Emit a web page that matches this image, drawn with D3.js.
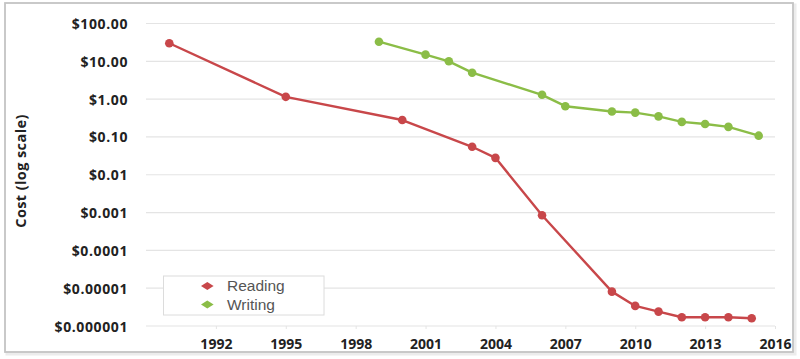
<!DOCTYPE html>
<html>
<head>
<meta charset="utf-8">
<script src="https://cdn.jsdelivr.net/npm/d3@7"></script>
<style>
  html, body { margin: 0; padding: 0; background: #fff; }
  svg { display: block; }
</style>
</head>
<body>
<svg id="chart" width="800" height="359"></svg>
<script>
// ---- data ----
const readingYears  = [1990, 1995, 2000, 2003, 2004, 2006, 2009, 2010, 2011, 2012, 2013, 2014, 2015];
const readingValues = [30, 1.15, 0.28, 0.055, 0.028, 0.00085, 0.0000081, 0.0000034, 0.0000024, 0.0000017, 0.0000017, 0.0000017, 0.0000016];
const writingYears  = [1999, 2001, 2002, 2003, 2006, 2007, 2009, 2010, 2011, 2012, 2013, 2014, 2015.3];
const writingValues = [33, 15, 10, 5, 1.3, 0.65, 0.47, 0.44, 0.35, 0.25, 0.22, 0.185, 0.108];
const yTickValues = [100, 10, 1, 0.1, 0.01, 0.001, 0.0001, 0.00001, 0.000001];
const yTickLabels = ["$100.00", "$10.00", "$1.00", "$0.10", "$0.01", "$0.001", "$0.0001", "$0.00001", "$0.000001"];
const xTickValues = [1992, 1995, 1998, 2001, 2004, 2007, 2010, 2013, 2016];
const seriesNames = ["Reading", "Writing"];
const seriesColors = ["#c8474a", "#8bbd47"];

const svg = d3.select("#chart");

// frame
svg.append("rect").attr("x", 7).attr("y", 5).attr("width", 788).attr("height", 349)
  .attr("fill", "none").attr("stroke", "#ececec").attr("stroke-width", 3);
svg.append("rect").attr("x", 5).attr("y", 3).attr("width", 788).attr("height", 349)
  .attr("fill", "#fff").attr("stroke", "#c4c4c4").attr("stroke-width", 1.8);

const x = d3.scaleLinear().domain([1989, 2016]).range([146, 775]);
const y = d3.scaleLog().domain([1e-6, 1e2]).range([326, 23.5]);

// gridlines
const grid = svg.append("g").attr("class", "grid");
grid.selectAll("line").data(yTickValues).join("line")
  .attr("x1", x.range()[0]).attr("x2", x.range()[1])
  .attr("y1", d => y(d)).attr("y2", d => y(d))
  .attr("stroke", "#e4e4e4").attr("stroke-width", 1.2);

// y axis
const yAxis = d3.axisLeft(y).tickValues(yTickValues)
  .tickFormat((d, i) => yTickLabels[i]).tickSize(0).tickPadding(0);
const yg = svg.append("g").attr("transform", "translate(128,0)").call(yAxis);
yg.select(".domain").remove();
yg.selectAll("text").attr("font-family", "'Open Sans', sans-serif").attr("font-weight", 700)
  .attr("font-size", 14).attr("fill", "#222").attr("letter-spacing", 0.6).attr("dy", "0.36em");

// x axis
const xAxis = d3.axisBottom(x).tickValues(xTickValues).tickFormat(d3.format("d"))
  .tickSize(3).tickPadding(10);
const xg = svg.append("g").attr("transform", `translate(0,${y(1e-6)})`).call(xAxis);
xg.select(".domain").remove();
xg.selectAll(".tick line").attr("stroke", "#e4e4e4");
xg.selectAll("text").attr("font-family", "'Open Sans', sans-serif").attr("font-weight", 700)
  .attr("font-size", 14).attr("fill", "#222");

// y title
svg.append("text")
  .attr("transform", "translate(25.5,171) rotate(-90)")
  .attr("text-anchor", "middle")
  .attr("font-family", "'Open Sans', sans-serif").attr("font-weight", 700)
  .attr("font-size", 14.5).attr("fill", "#222").attr("letter-spacing", 0.4)
  .text("Cost (log scale)");

// series
const series = [
  { name: seriesNames[0], color: seriesColors[0], pts: readingYears.map((yr, i) => [yr, readingValues[i]]) },
  { name: seriesNames[1], color: seriesColors[1], pts: writingYears.map((yr, i) => [yr, writingValues[i]]) }
];
const line = d3.line().x(d => x(d[0])).y(d => y(d[1]));
series.forEach(s => {
  svg.append("path").datum(s.pts).attr("d", line)
    .attr("fill", "none").attr("stroke", s.color).attr("stroke-width", 2.4)
    .attr("stroke-linejoin", "round");
  svg.append("g").selectAll("circle").data(s.pts).join("circle")
    .attr("cx", d => x(d[0])).attr("cy", d => y(d[1])).attr("r", 4.3)
    .attr("fill", s.color);
});

// legend
const lg = svg.append("g");
lg.append("rect").attr("x", 163.5).attr("y", 276).attr("width", 160.5).attr("height", 39)
  .attr("fill", "#fff").attr("stroke", "#dcdcdc").attr("stroke-width", 1);
series.forEach((s, i) => {
  const cy = 286 + i * 18.5;
  lg.append("path")
    .attr("d", `M${201},${cy} L${207.3},${cy - 4} L${213.6},${cy} L${207.3},${cy + 4} Z`)
    .attr("fill", s.color);
  lg.append("text").attr("x", 227).attr("y", cy).attr("dy", "0.35em")
    .attr("font-family", "'Liberation Sans', Arial, sans-serif").attr("font-size", 15.5)
    .attr("fill", "#555").text(s.name);
});
</script>
</body>
</html>
